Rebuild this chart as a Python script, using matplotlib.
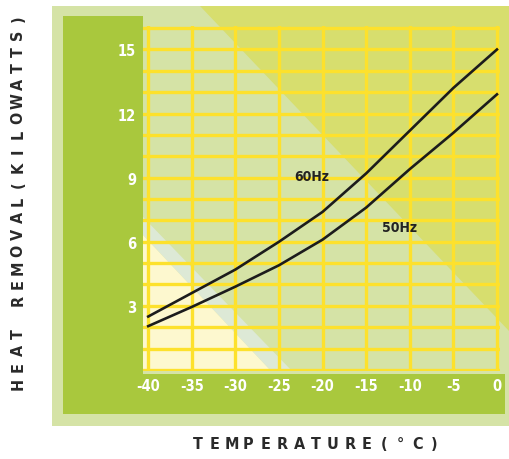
import numpy as np
import matplotlib.pyplot as plt
from matplotlib.patches import Polygon, Rectangle

plt.rcParams["axes.unicode_minus"] = False

# temperature (deg C) and heat removal (kW)
temps = [-40, -35, -30, -25, -20, -15, -10, -5, 0]
hz60 = [2.5, 3.6, 4.7, 6.0, 7.4, 9.2, 11.2, 13.2, 15.0]
hz50 = [2.05, 2.95, 3.9, 4.9, 6.1, 7.6, 9.4, 11.1, 12.9]
xticks = [-40, -35, -30, -25, -20, -15, -10, -5, 0]
yticks = [3, 6, 9, 12, 15]
ylabel = "HEAT REMOVAL(KILOWATTS)"
xlabel = "TEMPERATURE(°C)"

W, H = 510, 460
fig = plt.figure(figsize=(W / 100, H / 100), dpi=100)
fig.patch.set_facecolor("white")

# background panels in pixel coords (y down)
bg = fig.add_axes([0, 0, 1, 1])
bg.set_xlim(0, W)
bg.set_ylim(H, 0)
bg.axis("off")
bg.add_patch(Rectangle((52, 7), 458, 420, color="#d5e3a6", lw=0))
bg.add_patch(Polygon([(200, 7), (510, 7), (510, 333)], color="#d7de6e", lw=0))
bg.add_patch(Rectangle((63, 17), 80, 398, color="#a9c83d", lw=0))
bg.add_patch(Rectangle((63, 375), 442, 40, color="#a9c83d", lw=0))
bg.add_patch(Polygon([(143, 218), (143, 236), (271, 372), (292, 372)], color="#dde9d6", lw=0))
bg.add_patch(Polygon([(143, 236), (143, 372), (271, 372)], color="#fdf8cf", lw=0))

# axis titles, letter-spaced like the original
cond = dict(family="DejaVu Sans", stretch="condensed", fontweight="bold")
pitch = 16.6
y0 = 201 + pitch * (len(ylabel) - 1) / 2
for i, ch in enumerate(ylabel):
    bg.text(18, y0 - i * pitch, ch, rotation=90, ha="center", va="center",
            fontsize=11.5, color="#2a2a2a", **cond)
x0 = 316 - 16.9 * (len(xlabel) - 1) / 2
for i, ch in enumerate(xlabel):
    bg.text(x0 + i * 16.9, 445, ch, ha="center", va="center",
            fontsize=11.5, color="#2a2a2a", **cond)

ax = fig.add_axes([143 / W, (H - 372) / H, (500 - 143) / W, (372 - 27) / H])
ax.patch.set_alpha(0)
ax.set_xlim(-40.6, 0.35)
ax.set_ylim(-0.05, 16.1)
ax.set_xticks(xticks)
ax.set_yticks(yticks)
ax.set_yticks(np.arange(0, 17), minor=True)
ax.grid(True, which="both", color="#fde12c", lw=2.4)
ax.set_axisbelow(True)
for s in ax.spines.values():
    s.set_visible(False)
ax.tick_params(which="both", length=0, colors="white", labelsize=10.5)
ax.tick_params(axis="x", pad=5)
ax.tick_params(axis="y", pad=5)
for lab in ax.get_xticklabels() + ax.get_yticklabels():
    lab.set_family("DejaVu Sans")
    lab.set_stretch("condensed")
    lab.set_fontweight("bold")

ax.plot(temps, hz60, color="#1c1c1c", lw=1.9)
ax.plot(temps, hz50, color="#1c1c1c", lw=1.9)
ax.text(-21.2, 9.1, "60Hz", ha="center", va="center", fontsize=10,
        color="#222222", **cond)
ax.text(-11.2, 6.7, "50Hz", ha="center", va="center", fontsize=10,
        color="#222222", **cond)

fig.savefig("out.png", dpi=100)
